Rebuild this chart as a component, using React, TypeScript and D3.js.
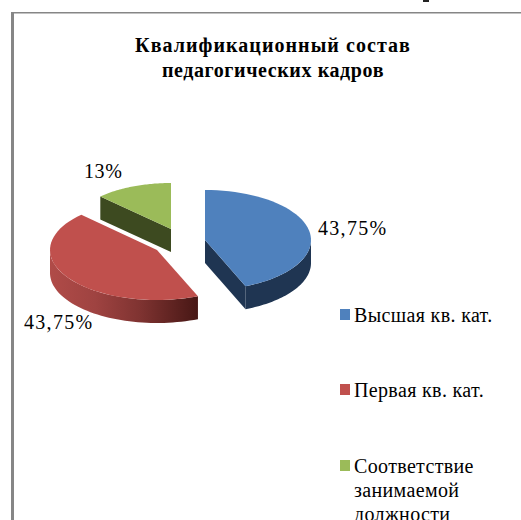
import React from "react";
import * as d3 from "d3";

const categories = ["Высшая кв. кат.", "Первая кв. кат.", "Соответствие занимаемой должности"];
const values = [43.75, 43.75, 12.5];
const valueLabels = ["43,75%", "43,75%", "13%"];
const colors = ["#4f81bd", "#c0504d", "#9bbb59"];
const sideColors = ["#1f3552", "url(#redRim)", "#3d4a20"];
const titleLines = ["Квалификационный состав", "педагогических кадров"];
const legendLines = [["Высшая кв. кат."], ["Первая кв. кат."], ["Соответствие", "занимаемой", "должности"]];

const centers = [
  { cx: 205, cy: 240, rx: 106, ry: 50 },
  { cx: 157, cy: 250, rx: 107, ry: 50 },
  { cx: 171, cy: 229, rx: 100, ry: 46 },
];
const depth = 23;
const labelPos = [
  { x: 318, y: 235 },
  { x: 24, y: 329 },
  { x: 84, y: 178 },
];
const legendY = [322, 397, 473];
const lineH = 24;
const titleSpacing = [1.05, 0.6];

const pieGen = d3.pie<number>().sort(null).value((d) => d);
const arcs = pieGen(values);
const line = d3.line<[number, number]>();

function ell(c: (typeof centers)[0], a: number, dy = 0): [number, number] {
  return [c.cx + c.rx * Math.sin(a), c.cy - c.ry * Math.cos(a) + dy];
}
function samples(a0: number, a1: number) {
  const n = 48;
  return d3.range(n + 1).map((i) => d3.interpolateNumber(a0, a1)(i / n));
}
function topPath(i: number) {
  const c = centers[i];
  const a = arcs[i];
  const pts = samples(a.startAngle, a.endAngle).map((t) => ell(c, t));
  return line([[c.cx, c.cy], ...pts]) + "Z";
}
function rimPath(i: number) {
  const c = centers[i];
  const a = arcs[i];
  const s = Math.max(a.startAngle, Math.PI / 2);
  const e = Math.min(a.endAngle, (3 * Math.PI) / 2);
  if (e <= s) return "";
  const ts = samples(s, e);
  const upper = ts.map((t) => ell(c, t));
  const lower = ts.slice().reverse().map((t) => ell(c, t, depth));
  return line([...upper, ...lower]) + "Z";
}
function cutPath(i: number, ang: number) {
  const c = centers[i];
  const p = ell(c, ang);
  return line([[c.cx, c.cy], p, [p[0], p[1] + depth], [c.cx, c.cy + depth]]) + "Z";
}
const cutAngles: number[][] = [[arcs[0].endAngle, arcs[0].startAngle], [], [arcs[2].startAngle]];

export default function App() {
  return (
    <svg
      width={521}
      height={520}
      viewBox="0 0 521 520"
      style={{ position: "absolute", left: 0, top: 0, background: "#fff" }}
      fontFamily="'Liberation Serif','Times New Roman',serif"
    >
      <defs>
        <linearGradient id="redRim" gradientUnits="userSpaceOnUse" x1={50} x2={200} y1={0} y2={0}>
          <stop offset="0" stopColor="#b04b48" />
          <stop offset="0.3" stopColor="#9f4341" />
          <stop offset="0.6" stopColor="#7f3331" />
          <stop offset="1" stopColor="#451614" />
        </linearGradient>
      </defs>
      <rect x={11} y={12} width={510} height={1.5} fill="#868686" />
      <rect x={11} y={12} width={3} height={508} fill="#868686" />
      <rect x={423} y={0} width={6} height={2} fill="#222" />

      {titleLines.map((t, i) => (
        <text key={t} x={273} y={52 + i * 25} textAnchor="middle" fontSize={20} letterSpacing={titleSpacing[i]} fontWeight="bold" fill="#000">
          {t}
        </text>
      ))}

      {[2, 1, 0].map((i) => (
        <g key={categories[i]}>
          {cutAngles[i].map((a) => (
            <path key={a} d={cutPath(i, a)} fill={sideColors[i] === "url(#redRim)" ? "#451614" : sideColors[i]} />
          ))}
          <path d={rimPath(i)} fill={sideColors[i]} />
          <path d={topPath(i)} fill={colors[i]} />
        </g>
      ))}

      {valueLabels.map((t, i) => (
        <text key={i} x={labelPos[i].x} y={labelPos[i].y} fontSize={20} letterSpacing={i === 2 ? 0.6 : 1.3} fill="#000">
          {t}
        </text>
      ))}

      {categories.map((c, i) => (
        <g key={c}>
          <rect x={340} y={legendY[i] - 13} width={10} height={11} fill={colors[i]} />
          {legendLines[i].map((l, j) => (
            <text key={l} x={354} y={legendY[i] + j * lineH} fontSize={20} letterSpacing={0.35} fill="#000">
              {l}
            </text>
          ))}
        </g>
      ))}
    </svg>
  );
}
